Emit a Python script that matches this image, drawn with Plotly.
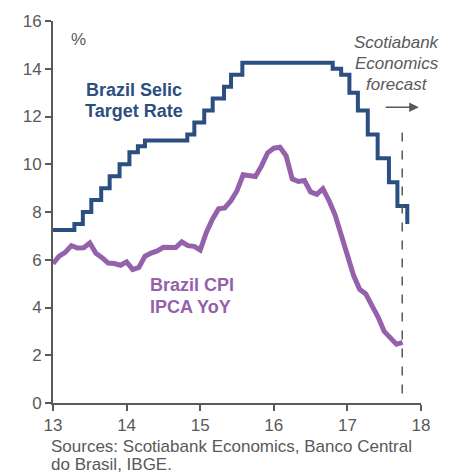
import plotly.graph_objects as go
from datetime import date

# Brazil Selic target rate: decision dates and new rate (%)
selic_dates = ["2013-01-01", "2013-04-17", "2013-05-29", "2013-07-10", "2013-08-28",
               "2013-10-09", "2013-11-27", "2014-01-15", "2014-02-26", "2014-04-02",
               "2014-10-29", "2014-12-03", "2015-01-21", "2015-03-04", "2015-04-29",
               "2015-06-03", "2015-07-29", "2016-10-19", "2016-11-30", "2017-01-11",
               "2017-02-22", "2017-04-12", "2017-05-31", "2017-07-26", "2017-09-06",
               "2017-10-25"]
selic_rates = [7.25, 7.50, 8.00, 8.50, 9.00, 9.50, 10.00, 10.50, 10.75, 11.00,
               11.25, 11.75, 12.25, 12.75, 13.25, 13.75, 14.25, 14.00, 13.75, 13.00,
               12.25, 11.25, 10.25, 9.25, 8.25, 7.50]

# Brazil CPI IPCA y/y (%), monthly from Dec 2012 to Sep 2017
cpi_start = (2012, 12)
cpi_values = [5.84,
              6.15, 6.31, 6.59, 6.49, 6.50, 6.70, 6.27, 6.09, 5.86, 5.84, 5.77, 5.91,
              5.59, 5.68, 6.15, 6.28, 6.37, 6.52, 6.50, 6.51, 6.75, 6.59, 6.56, 6.41,
              7.14, 7.70, 8.13, 8.17, 8.47, 8.89, 9.56, 9.53, 9.49, 9.93, 10.48, 10.67,
              10.71, 10.36, 9.39, 9.28, 9.32, 8.84, 8.74, 8.97, 8.48, 7.87, 6.99, 6.29,
              5.35, 4.76, 4.57, 4.08, 3.60, 3.00, 2.71, 2.46, 2.54]

forecast_start = 17.745

x_ticks = [13, 14, 15, 16, 17, 18]
y_ticks = [0, 2, 4, 6, 8, 10, 12, 14, 16]

selic_label = ["Brazil Selic", "Target Rate"]
cpi_label = ["Brazil CPI", "IPCA YoY"]
forecast_label = ["Scotiabank", "Economics", "forecast"]
source_lines = ["Sources: Scotiabank Economics, Banco Central", "do Brasil, IBGE."]


def to_year(s):
    d = date.fromisoformat(s)
    start = date(d.year, 1, 1)
    frac = (d - start).days / 365.0
    return (d.year - 2000) + frac


selic_x = [to_year(s) for s in selic_dates]
cpi_x = []
y, m = cpi_start
for _ in cpi_values:
    cpi_x.append((y - 2000) + m / 12.0)
    m += 1
    if m > 12:
        m = 1
        y += 1

navy = "#2B4F80"
purple = "#9461AA"
grey = "#595959"
font = "Liberation Sans, Arial, sans-serif"

fig = go.Figure()
fig.add_trace(go.Scatter(x=cpi_x, y=cpi_values, mode="lines",
                         line=dict(color=purple, width=5), hoverinfo="skip"))
fig.add_trace(go.Scatter(x=selic_x, y=selic_rates, mode="lines", line_shape="hv",
                         line=dict(color=navy, width=4), hoverinfo="skip"))

fig.add_shape(type="line", x0=forecast_start, x1=forecast_start, y0=0.4, y1=11.45,
              xref="x", yref="y", line=dict(color=grey, width=1.5, dash="dash"))

fig.add_annotation(x=13.343, y=15.21, text="%", showarrow=False,
                   font=dict(family=font, size=17, color=grey))
for txt, yy in zip(selic_label, [13.09, 12.22]):
    fig.add_annotation(x=14.104, y=yy, text="<b>%s</b>" % txt, showarrow=False,
                       xanchor="center", font=dict(family=font, size=18, color=navy))
for txt, yy in zip(cpi_label, [4.95, 4.03]):
    fig.add_annotation(x=14.294, y=yy, text="<b>%s</b>" % txt, showarrow=False,
                       xanchor="left", font=dict(family=font, size=18, color=purple))
for txt, yy in zip(forecast_label, [15.09, 14.24, 13.32]):
    fig.add_annotation(x=17.68, y=yy, text="<i>%s</i>" % txt, showarrow=False,
                       xanchor="center", font=dict(family=font, size=17, color=grey))
fig.add_annotation(x=17.97, y=12.39, ax=17.50, ay=12.39, axref="x", ayref="y",
                   xref="x", yref="y", text="", showarrow=True,
                   arrowhead=2, arrowsize=1.2, arrowwidth=1.6, arrowcolor=grey)
for txt, py in zip(source_lines, [-0.1143, -0.1597]):
    fig.add_annotation(x=-0.012, y=py, xref="paper", yref="paper",
                       xanchor="left", yanchor="middle", align="left", showarrow=False,
                       text=txt, font=dict(family=font, size=17, color=grey))

fig.update_layout(
    width=457, height=474,
    margin=dict(l=53, r=36, t=18, b=71),
    paper_bgcolor="white", plot_bgcolor="white",
    showlegend=False,
    font=dict(family=font, size=17, color=grey),
    xaxis=dict(range=[13, 18], tickvals=x_ticks, ticktext=[str(v) for v in x_ticks],
               showgrid=False, zeroline=False, showline=True, linecolor=grey, linewidth=2,
               ticks="outside", ticklen=6, tickwidth=2, tickcolor=grey,
               tickfont=dict(family=font, size=17, color=grey)),
    yaxis=dict(range=[0, 16], tickvals=y_ticks, ticktext=[str(v) for v in y_ticks],
               showgrid=False, zeroline=False, showline=True, linecolor=grey, linewidth=2,
               ticks="outside", ticklen=6, tickwidth=2, tickcolor=grey,
               tickfont=dict(family=font, size=17, color=grey)),
)

fig.write_html("out.html", config={"displayModeBar": False},
               post_script="document.body.style.margin='0';document.body.style.overflow='hidden';")
